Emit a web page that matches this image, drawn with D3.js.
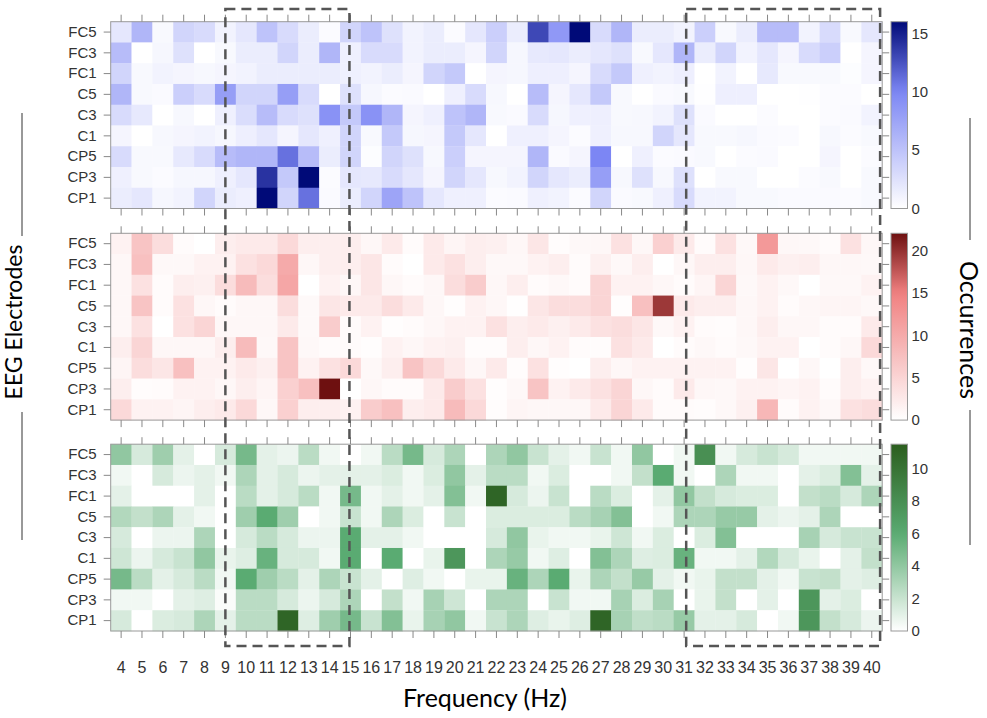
<html>
  <head>
    <meta charset="utf-8">
    <title>EEG occurrences</title>
    <script src="https://d3js.org/d3.v7.min.js"></script>
    <style>
      body { margin: 0; background: #fff; }
    </style>
  </head>
  <body>

    <svg id="grafico" width="987" height="718"></svg>

    <script>
    // frequencies (Hz) and electrodes
    let freqs = d3.range(4, 41);
    let electrodes = ["FC5", "FC3", "FC1", "C5", "C3", "C1", "CP5", "CP3", "CP1"];

    // top panel (blue) - one row per electrode, cols 4..40 Hz
    let blueValues = [
      [2,6,0.5,3.5,3,1,2,5,3,1.5,0.3,3.5,5, 2.5,1,1.5,0.3,2,4,1.5,13,8.5,16,3,6, 1.5,1.5,1,4,0.5,1.5,5.5,5.5,1,3,0.5,2],
      [5.5,0,0.7,2.5,0,0.5,1.5,1.5,3.5,1.5,6,1.2,3, 3,1,1.5,1.5,0.8,3.5,0.7,1.8,2,1.5,2,2.5, 0.5,2,6,1.5,3.5,1,2,0.8,3,4,0,0.8],
      [3.5,0.5,1,0.8,0.6,0.8,1,1.5,1.5,1.5,1.5,1.2,1, 1.5,0.8,3.5,4.5,0,0.8,0.7,1.3,1.3,0.8,3,4.5, 1.2,1,1.3,0,1,0,1.8,0.5,0.5,0.5,0.2,0.8],
      [6,0.5,0.4,4,3,8,3.5,3.5,8,3,0,2.5,0.7, 0.3,0.4,0,1.2,3,0.6,0,5.5,0.8,2,4.5,0.5, 0,0.4,0.5,0.1,1.3,1.3,0,0,0.1,0.3,0.3,0],
      [3,1.8,0,0.6,0,1.2,2.8,5.5,3,2.5,9,4.5,9, 6,0.8,1.2,5,6,0.5,0.4,3,0.7,1.2,1.3,0.5, 0.6,1,2.5,0.4,0,0,0.3,0,0,0.3,0.4,1],
      [0.8,0,0.6,0.8,1,0.7,1.3,2,0.8,2,1.2,3.5,0.5, 4.5,0.7,0.8,4.5,2,0,1.2,1.2,0.8,0.3,1.2,0.6, 0.6,3.5,2,0.5,0.5,0.7,0.4,0.3,0,0.6,0.3,0.5],
      [3,0.5,0.5,1.8,3,5.5,6,6,11,5.5,1.5,3.5,0.2, 3.5,2.5,0.6,4,0.8,0.8,0.8,6,0.4,0.8,10,0, 1.2,0.3,0.4,0.5,0,0.3,0.4,0,0,0.8,0,0.3],
      [1.2,0.5,0.3,0.7,0.7,1.2,2,14,4.5,16,0.3,2,1.8, 3,2,0.8,3.5,2,0.6,1,3.5,2,1.5,8,0.6, 2.5,0.6,2.5,0,0.5,0.5,0,0,0.3,0.5,0,0.5],
      [1.5,2,0.7,1,3.5,1.5,1.2,16,3.5,11,0.4,1.5,3.5, 7.5,5,2,1.2,1.2,0.3,0.4,1.2,1,0.3,3.5,0.4, 0.5,1.2,3,1,1,0.5,0.5,0.4,0.4,0.4,0.3,0.5]
    ];

    // middle panel (red)
    let redValues = [
      [1.5,7,4,0.5,0,2,2.5,2.5,4.5,2,2,2,1, 2.5,0.5,2.5,1.2,2,1.8,1,3,0.3,0.8,1,3.5, 1,5.5,2.5,0.5,3.5,0.8,12,1,0.8,0.5,3.5,1],
      [1,7.5,0.8,0.8,1.5,1.5,3.5,4.5,10,1,2,2,3, 0.5,0,2.5,3.5,2,0.8,0.8,1.5,2,0.5,1.8,0.8, 2,0,1,2,2,1,2.5,1.8,2,1,1,0.8],
      [1,3.5,0.5,2,1.8,4,8,4,10.5,0,1.5,1,3, 1,0.5,1,4,6,1,2,0.5,0.8,0.5,5,1.5, 1.5,1,0.5,1.2,5,0.8,1.5,0.8,0,0.8,0.8,1.5],
      [1,7,0.5,3.5,1,0.5,1,1,4,0.7,3,2.5,2.5, 4,2.5,1,0.2,1.5,1,0.1,3,4,4,5,0.2, 7.5,19.5,2.5,2,2,1,1.5,0.5,1,1.2,1.2,0.8],
      [1,3.5,0,3.5,5,1,1,1,2.5,0.7,6,0.5,1.5, 0.2,0.5,1,1.5,1.5,3.5,2,2.5,1.8,2.5,3.5,4, 3,0.8,1.5,0.5,0.3,1,2,1,1,0.5,0.5,2.5],
      [2,5,1,1,1,2,8,0.8,7,0.8,0.5,0.5,0.2, 1.5,1,1.5,1.8,0.3,0.3,2,1,1.5,0.5,0.3,3.5, 2.5,0,0.5,0.8,0.5,0.8,1.5,1.5,0,0.5,1,4.5],
      [1.2,4,3,7.5,1.5,1.5,2.5,1.8,7,1.5,3.5,4.5,0.8, 2,7,4.5,2.5,1,2.5,0.3,3.5,0.2,0,2,1, 1.5,1.5,1.5,1.5,1.5,0.2,3,0,1,0,2,0.8],
      [2,0.3,0.5,1.5,1.5,1,2,1.2,5.5,7.5,22,0,1, 0.5,0.5,2.5,6,3.5,0.2,0.8,7,1.5,2.5,3.5,5, 1,0.5,2.5,1,0.8,1.5,1.5,1.2,1.5,0.5,2,1.5],
      [4.5,1.5,1.5,1.2,2,2.5,4.5,1,5.5,2,2,1.5,6, 7.5,2,2.5,8,4.5,0.3,1.2,1,1,1,2.5,5, 2.5,0.5,0.5,0.3,0.8,1.8,8.5,0.5,1.5,0.8,3.5,4]
    ];

    // bottom panel (green)
    let greenValues = [
      [4,1.5,3.5,1,0,1.5,5,1,0.7,2.5,0.5,0,0.5, 2.5,5,1.5,3,0,3,4,2,1,0.5,2,0.5, 4,0,0.5,8,0.5,1.5,2,1.5,0.5,0.5,0.5,0.5],
      [0.5,0,1.5,0.7,1,0.5,3,1,1.5,0.7,1,1,1, 1.3,0.5,1.3,4,1,2.5,2.5,0.5,1.3,0,0,0.5, 2.2,6,0.5,0,3,0.5,0.5,0,1,1.3,4.5,1],
      [1,0,0,0,1,0,2.5,1,1.5,2.5,0.5,5,0.5, 1,0.5,1,4.5,0.5,11,1.5,0.7,2,0,2.5,1.3, 0,1,4,2.2,1.5,1.3,1.3,0,2.2,2.5,1.5,3],
      [2.8,2.2,3,1,0.5,0,3.5,6,3.5,0,0.5,2,0.5, 3,1.3,0,2,0,1.3,1.3,1.3,1.3,2.5,3.2,4.5, 0,0.5,3,3,3.8,3.8,1,0.7,1,3,0,0],
      [1.5,0,0.7,0.7,3,0,1.5,2.5,1.5,0.7,0.7,6,1, 1,0.5,0,0,0,1.5,4,0.8,0.5,0.5,0.8,1.8, 0.5,1.3,0,1.3,4.5,0,0,0,3.2,1.5,2,2],
      [1.8,0.7,1.5,2,4,0.8,1.2,5.5,1.5,1.5,0.5,6,0, 6,0,0.8,7.5,0,3,3.8,0.5,1.2,0,4.5,3, 1.2,1.3,5.5,0.5,0.5,1,2.8,1.5,0.8,0,1,2.2],
      [5,2.5,1,1.5,2.5,0.5,6,3.5,2.5,1,3,2,1, 0,1.2,0.5,0,0.8,0.8,5.5,3,6,0.8,3,2.2, 3.8,1,0.5,0.8,2.2,2.2,1,0.5,2,2.2,1,1.2],
      [0.5,0.5,0,1,1.2,0.2,2.5,2.5,1.5,0.7,1.5,3,0, 2.2,0.5,3.2,1.8,0,3,3,0,2,0.5,0.5,3.2, 1.3,3.2,0,0.8,2.2,0,1,0,7.5,1,1.3,0],
      [1.5,0,1.3,1.5,3,1,2.5,2.5,11,1.2,3.5,5,2, 4.5,0.8,3.2,4,0.5,2,3,1.2,0.8,1.2,11,3.2, 2.3,2.5,3.8,1,1,1.5,0,0.5,7.5,2.2,1.5,0.7]
    ];

    // colorbar ticks
    let blueTicks = [0, 5, 10, 15];
    let redTicks = [0, 5, 10, 15, 20];
    let greenTicks = [0, 2, 4, 6, 8, 10];

    // dashed boxes (in Hz)
    let bands = [[9, 14.95], [31.1, 40.4]];

    //
    let width = 987;
    let height = 718;
    let left = 110.7, right = 882.2;
    let panelH = 186.8;
    let tickFont = "'Liberation Sans', Arial, sans-serif";
    let titleFont = "Lato, 'Open Sans', sans-serif";

    let panels = [
      {values: blueValues, top: 21.7, max: 16, mid: 10, colors: ["#ffffff", "#7c86f4", "#000a78"], ticks: blueTicks, id: "b"},
      {values: redValues, top: 233.3, max: 22, mid: 15, colors: ["#ffffff", "#f08080", "#6e1010"], ticks: redTicks, id: "r"},
      {values: greenValues, top: 444.2, max: 11.5, mid: 6, colors: ["#ffffff", "#5aab72", "#2b5e1e"], ticks: greenTicks, id: "g"}
    ];

    let svg = d3.select("svg");
    let defs = svg.append("defs");

    let x = d3.scaleBand().domain(freqs).range([left, right]);
    let fx = d3.scaleLinear().domain([3.5, 40.5]).range([left, right]);

    panels.forEach(function(p, pi){
      let y = d3.scaleBand().domain(electrodes).range([p.top, p.top + panelH]);
      let color = d3.scaleLinear().domain([0, p.mid, p.max]).range(p.colors);

      let cells = [];
      p.values.forEach(function(row, ri){
        row.forEach(function(v, ci){
          cells.push({e: electrodes[ri], f: freqs[ci], v: v});
        });
      });

      let g = svg.append("g");
      g.selectAll("rect")
        .data(cells)
        .enter()
        .append("rect")
        .attr("x", d => x(d.f))
        .attr("y", d => y(d.e))
        .attr("width", x.bandwidth() + 0.3)
        .attr("height", y.bandwidth() + 0.3)
        .attr("fill", d => color(d.v));

      // box
      g.append("rect")
        .attr("x", left).attr("y", p.top)
        .attr("width", right - left).attr("height", panelH)
        .attr("fill", "none").attr("stroke", "#999").attr("stroke-width", 1);

      // axes with outward ticks on all four sides
      let yl = g.append("g").attr("transform", "translate(" + left + ",0)")
        .call(d3.axisLeft(y).tickSize(7).tickPadding(7).tickSizeOuter(0));
      let yr = g.append("g").attr("transform", "translate(" + right + ",0)")
        .call(d3.axisRight(y).tickSize(7).tickFormat("").tickSizeOuter(0));
      let xt = g.append("g").attr("transform", "translate(0," + p.top + ")")
        .call(d3.axisTop(x).tickSize(7).tickFormat("").tickSizeOuter(0));
      let xb = g.append("g").attr("transform", "translate(0," + (p.top + panelH) + ")")
        .call(d3.axisBottom(x).tickSize(7).tickPadding(24).tickSizeOuter(0)
          .tickFormat(pi == 2 ? (d => d) : ""));

      [yl, yr, xt, xb].forEach(function(a){
        a.select(".domain").remove();
        a.selectAll("line").attr("stroke", "#888");
        a.selectAll("text").attr("fill", "#333")
          .style("font-family", tickFont).style("font-size", "15px");
      });
      xb.selectAll("text").style("font-size", "16px");

      // colorbar
      let grad = defs.append("linearGradient").attr("id", "grad" + p.id)
        .attr("x1", 0).attr("y1", 1).attr("x2", 0).attr("y2", 0);
      d3.range(0, 1.001, 0.05).forEach(function(t){
        grad.append("stop").attr("offset", t).attr("stop-color", color(t * p.max));
      });
      let cbX = 891, cbW = 16.5;
      let cy = d3.scaleLinear().domain([0, p.max]).range([p.top + panelH, p.top]);
      g.append("rect")
        .attr("x", cbX).attr("y", p.top)
        .attr("width", cbW).attr("height", panelH)
        .attr("fill", "url(#grad" + p.id + ")")
        .attr("stroke", "#999").attr("stroke-width", 1);
      let cb = g.append("g").attr("transform", "translate(" + (cbX + cbW) + ",0)")
        .call(d3.axisRight(cy).tickValues(p.ticks).tickSize(0).tickPadding(4));
      cb.select(".domain").remove();
      cb.selectAll("text").attr("fill", "#333")
        .style("font-family", tickFont).style("font-size", "15px");
    });

    // dashed boxes over all three panels
    svg.selectAll(".band")
      .data(bands)
      .enter()
      .append("rect")
      .attr("class", "band")
      .attr("x", d => fx(d[0]))
      .attr("y", 9)
      .attr("width", d => fx(d[1]) - fx(d[0]))
      .attr("height", 637)
      .attr("fill", "none")
      .attr("stroke", "#555")
      .attr("stroke-width", 2.5)
      .attr("stroke-dasharray", "10,6");

    // titles
    svg.append("text")
      .attr("x", 485).attr("y", 707)
      .attr("text-anchor", "middle")
      .style("font-family", titleFont).style("font-size", "25px")
      .text("Frequency (Hz)");

    svg.append("text")
      .attr("transform", "translate(22,322) rotate(-90)")
      .attr("text-anchor", "middle")
      .style("font-family", titleFont).style("font-size", "23px")
      .text("EEG Electrodes");

    svg.append("text")
      .attr("transform", "translate(960,330) rotate(90)")
      .attr("text-anchor", "middle")
      .style("font-family", titleFont).style("font-size", "25px")
      .text("Occurrences");

    // little rules beside the side titles
    let rules = [[22, 113, 236], [22, 412, 540], [970, 118, 240], [970, 410, 545]];
    svg.selectAll(".rule")
      .data(rules)
      .enter()
      .append("line")
      .attr("class", "rule")
      .attr("x1", d => d[0]).attr("x2", d => d[0])
      .attr("y1", d => d[1]).attr("y2", d => d[2])
      .attr("stroke", "#333").attr("stroke-width", 1);
    </script>

  </body>
</html>
